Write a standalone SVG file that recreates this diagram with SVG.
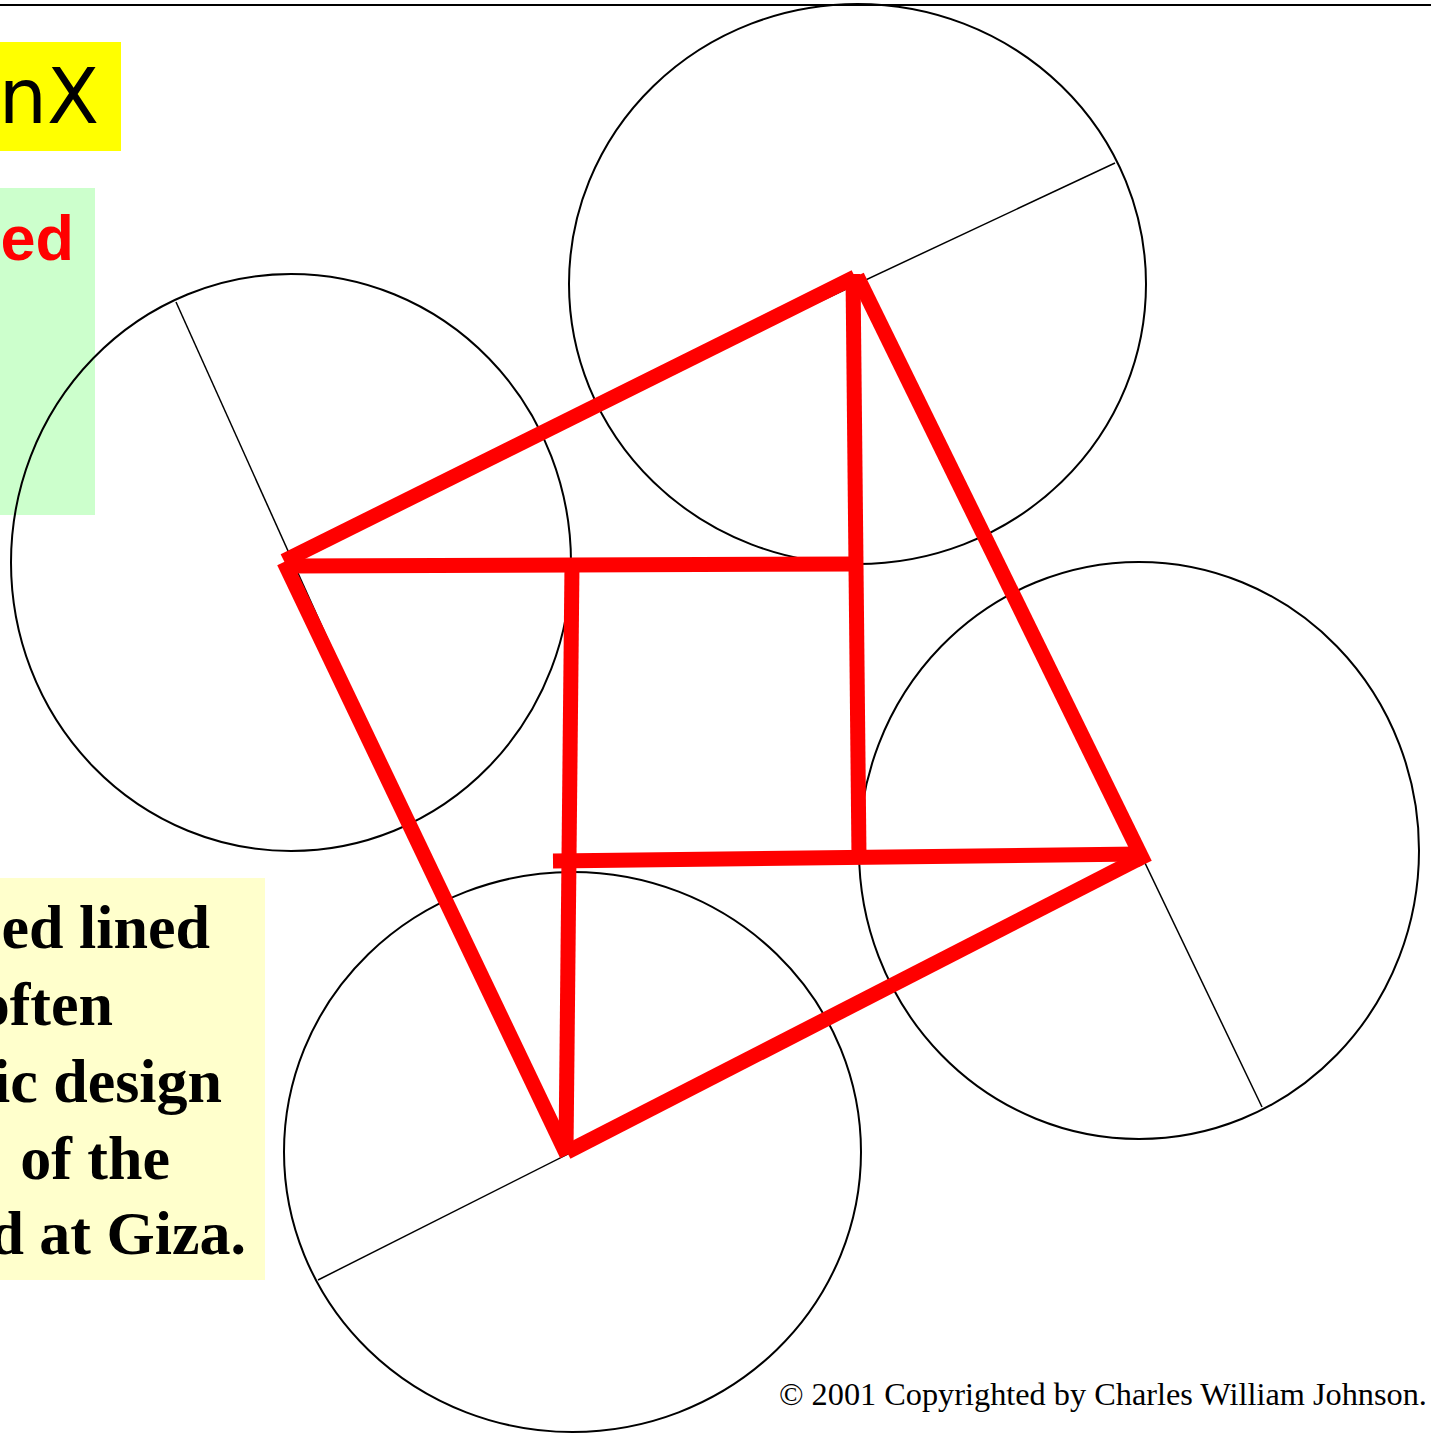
<svg xmlns="http://www.w3.org/2000/svg" width="1431" height="1436" viewBox="0 0 1431 1436">
<style>
.thin{stroke:#000;stroke-width:2;fill:none}
.hair{stroke:#000;stroke-width:1.5;fill:none}
.red{stroke:#ff0000;stroke-width:15;fill:none;stroke-linecap:butt}
.body{font-family:"Liberation Serif","Times New Roman",serif;font-weight:bold;font-size:62px;fill:#000}
</style>
<rect width="1431" height="1436" fill="#fff"/>
<line class="thin" x1="0" y1="5" x2="1431" y2="5"/>
<g id="title-box">
<rect x="0" y="42" width="121" height="109" fill="#ffff00"/>
<text x="99" y="123" text-anchor="end" font-family="'Comic Sans MS','DejaVu Sans',sans-serif" font-size="76" fill="#000">unX</text>
</g>
<g id="green-box">
<rect x="0" y="188" width="95" height="327" fill="#ccffcc"/>
<text x="74" y="260" text-anchor="end" font-family="'Liberation Sans',Arial,sans-serif" font-weight="bold" font-size="63" fill="#ff0000">ed</text>
</g>
<g id="note-box">
<rect x="0" y="878" width="265" height="402" fill="#ffffcc"/>
<text class="body" x="210" y="948" text-anchor="end">ed lined</text>
<text class="body" x="113" y="1025" text-anchor="end">often</text>
<text class="body" x="222" y="1102" text-anchor="end">ic design</text>
<text class="body" x="170" y="1179" text-anchor="end">of the</text>
<text class="body" x="246" y="1254" text-anchor="end">d at Giza.</text>
</g>
<g id="circle-top">
<ellipse class="thin" cx="857.5" cy="284" rx="288.5" ry="280"/>
<line class="hair" x1="1115" y1="163" x2="599" y2="405"/>
</g>
<g id="circle-left">
<ellipse class="thin" cx="291" cy="562.5" rx="280" ry="288.5"/>
<line class="hair" x1="176" y1="302" x2="410" y2="822"/>
<line class="hair" x1="292" y1="563" x2="571" y2="565"/>
</g>
<g id="circle-right">
<ellipse class="thin" cx="1139" cy="850.5" rx="280" ry="288.5"/>
<line class="hair" x1="1016" y1="594" x2="1262" y2="1107"/>
</g>
<g id="circle-bottom">
<ellipse class="thin" cx="572.5" cy="1152" rx="288.5" ry="280"/>
<line class="hair" x1="318" y1="1280" x2="826" y2="1024"/>
</g>
<g id="connectors">
<line class="red" x1="284" y1="561" x2="855" y2="277"/>
<line class="red" x1="857" y1="276" x2="1145" y2="864"/>
<line class="red" x1="1140" y1="858" x2="567" y2="1152"/>
<line class="red" x1="284" y1="562" x2="567" y2="1155"/>
<line class="red" x1="291" y1="566" x2="856" y2="564"/>
<line class="red" x1="853" y1="274" x2="859" y2="857"/>
<line class="red" x1="572" y1="564" x2="566" y2="1150"/>
<line class="red" x1="553" y1="861" x2="1140" y2="854"/>
</g>
<g id="copyright">
<text x="779" y="1405" font-family="'Liberation Serif','Times New Roman',serif" font-size="32.3" fill="#000">© 2001 Copyrighted by Charles William Johnson.</text>
</g>
</svg>
